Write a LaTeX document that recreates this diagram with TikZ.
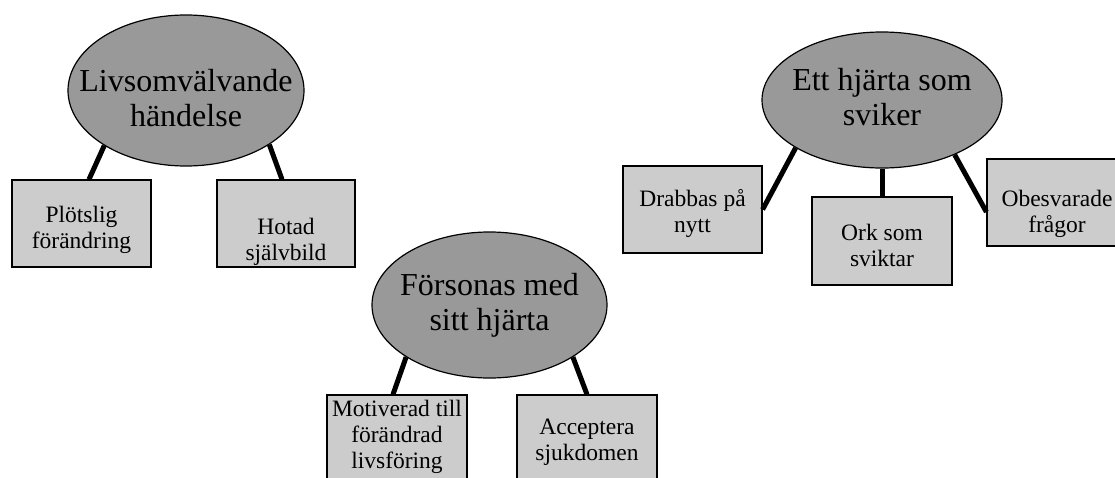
\documentclass[tikz,border=0pt]{standalone}
\usepackage{fontspec}
\setmainfont{Liberation Serif}
\usetikzlibrary{shapes.geometric}
\definecolor{ellfill}{HTML}{999999}
\definecolor{boxfill}{HTML}{CCCCCC}
\tikzset{
  ell/.style={draw=black, line width=1.2pt, fill=ellfill, ellipse, inner sep=0pt},
  ebox/.style={draw=black, line width=1.2pt, fill=boxfill, rectangle, inner sep=0pt},
  etext/.style={font=\fontsize{32}{35}\selectfont, align=center, inner sep=0pt},
  btext/.style={font=\fontsize{23.5}{26}\selectfont, align=center, inner sep=0pt},
  conn/.style={line width=5pt}
}
\begin{document}
\begin{tikzpicture}[x=1pt,y=-1pt]
\useasboundingbox (0,0) rectangle (1115,477);
\clip (0,0) rectangle (1115,477);
% ellipses
\node[ell, minimum width=236pt, minimum height=151pt] (e1) at (186,90.5) {};
\node[ell, minimum width=235pt, minimum height=146pt] (e2) at (489.5,305) {};
\node[ell, minimum width=240pt, minimum height=136pt] (e3) at (882,100) {};
\node[etext] (t1) at (186,98.5) {Livsomvälvande\\händelse};
\node[etext] (t2) at (489.5,305) {Försonas med\\sitt hjärta};
\node[etext] (t3) at (882,97.5) {Ett hjärta som\\sviker};
% boxes
\node[ebox, minimum width=139pt, minimum height=87pt] (b1) at (81.5,223.5) {};
\node[ebox, minimum width=138pt, minimum height=87pt] (b2) at (286,223.5) {};
\node[ebox, minimum width=140pt, minimum height=87pt] (b3) at (397,438.5) {};
\node[ebox, minimum width=140pt, minimum height=87pt] (b4) at (587,438.5) {};
\node[ebox, minimum width=139pt, minimum height=87pt] (b5) at (692.5,209.5) {};
\node[ebox, minimum width=140pt, minimum height=88pt] (b6) at (882,241) {};
\node[ebox, minimum width=140pt, minimum height=87pt] (b7) at (1057,202.5) {};
\node[btext] (s1) at (81.5,230) {Plötslig\\förändring};
\node[btext] (s2) at (286,242) {Hotad\\självbild};
\node[btext] (s3) at (397,437) {Motiverad till\\förändrad\\livsföring};
\node[btext] (s4) at (587,442) {Acceptera\\sjukdomen};
\node[btext] (s5) at (692.5,214) {Drabbas på\\nytt};
\node[btext] (s6) at (882,245) {Ork som\\sviktar};
\node[btext] (s7) at (1057,214) {Obesvarade\\frågor};
% connectors
\draw[conn] (e1.214) -- ([xshift=7.5pt]b1.north);
\draw[conn] (e1.327) -- ([xshift=-4pt]b2.north);
\draw[conn] (e2.212) -- ([xshift=-4pt]b3.north);
\draw[conn] (e2.328) -- (b4.north);
\draw[conn] (e3.209.5) -- (b5.east);
\draw[conn] (e3.south) -- (b6.north);
\draw[conn] (e3.323.8) -- ([yshift=-9.5pt]b7.west);
\end{tikzpicture}
\end{document}
